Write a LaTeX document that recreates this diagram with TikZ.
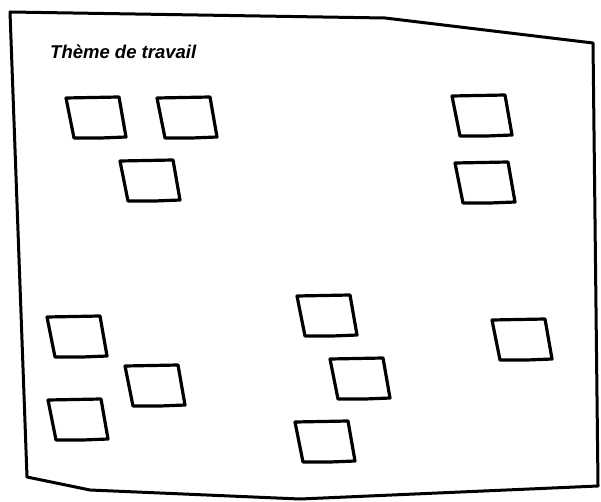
\documentclass[tikz,border=0pt]{standalone}
\usepackage{fontspec}
\setmainfont{Liberation Sans}
\usetikzlibrary{positioning}

\tikzset{
  sheet/.style={line width=3pt, line join=round},
  card/.style={line width=3.2pt, line join=round},
}

\begin{document}
\begin{tikzpicture}[x=1pt, y=-1pt]
  \useasboundingbox (0,0) rectangle (601,502);

  % Sheet outline
  \draw[sheet] (10,12) -- (385,18) -- (593,43) -- (598,486)
               -- (300,499) -- (90,490) -- (27,477) -- cycle;

  % Title
  \node[font=\fontsize{18.5}{22}\selectfont\bfseries\itshape, anchor=west,
        inner sep=0pt] (title) at (50,52) {Thème de travail};

  % Cards
  \foreach \x/\y in {66/98, 157/98, 120/161, 452/96, 455/163,
                     47/317, 125/366, 48/400,
                     297/296, 330/359, 295/422, 492/320}
    \draw[card] (\x,\y) -- ++(53,-1) -- ++(7,40) -- ++(-25,1)
                -- ++(-27,0) -- cycle;
\end{tikzpicture}
\end{document}
